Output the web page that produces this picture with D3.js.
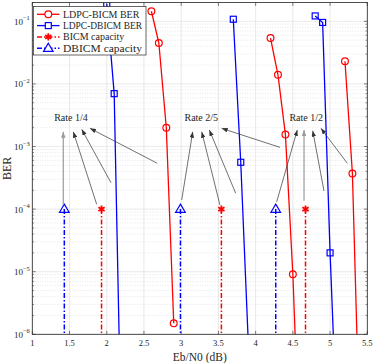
<!DOCTYPE html>
<html>
<head>
<meta charset="utf-8">
<script src="https://d3js.org/d3.v7.min.js"></script>
<style>
  body { margin: 0; background: #fff; }
  text { font-family: "Liberation Serif", "Times New Roman", serif; fill: #262626; }
</style>
</head>
<body>
<svg id="chart" width="374" height="363"></svg>
<script>
// LDPC BER curves, one list per code rate (1/4, 2/5, 1/2)
const bicmEbN0  = [[2.6, 2.7, 2.8, 2.9], [4.2, 4.3, 4.4, 4.5, 4.6], [5.2, 5.3, 5.4]];
const bicmBer   = [[0.145, 0.045, 0.002, 1.5e-6], [0.054, 0.014, 1.55e-3, 9.1e-6, 6e-9], [0.023, 3.7e-4, 2e-8]];
const dbicmEbN0 = [[2.0, 2.1, 2.2], [3.7, 3.8, 3.9], [4.8, 4.9, 5.0, 5.1]];
const dbicmBer  = [[0.19, 0.007, 1e-8], [0.108, 5.6e-4, 8e-7], [0.122, 0.096, 2e-5, 2e-8]];

// capacity limits (vertical markers)
const bicmCapacity  = [1.93, 3.54, 4.67];
const dbicmCapacity = [1.43, 2.99, 4.27];
const capacityBer   = [1e-4, 1e-7];

// annotations
const rateLabels   = ["Rate 1/4", "Rate 2/5", "Rate 1/2"];
const rateLabelX   = [1.52, 3.27, 4.68];
const rateLabelBer = 2.9e-3;
const arrowFromX   = [1.416, 1.865, 2.057, 2.679, 3.007, 3.521, 3.732, 4.327, 4.283, 4.65, 4.918, 5.231];
const arrowFromBer = [1.16e-4, 1.19e-4, 2.64e-4, 5.4e-4, 1.4e-4, 1.16e-4, 1.79e-4, 9.7e-4, 1.31e-4, 1.36e-4, 1.95e-4, 5.4e-4];
const arrowToX     = [1.416, 1.551, 1.664, 1.775, 3.155, 3.276, 3.378, 3.544, 4.56, 4.65, 4.767, 4.878];
const arrowToBer   = [1.72e-3, 1.72e-3, 1.88e-3, 1.95e-3, 1.72e-3, 1.72e-3, 1.84e-3, 1.95e-3, 1.84e-3, 1.84e-3, 1.79e-3, 1.95e-3];
const arrowGray    = [true, false, false, false, false, false, false, false, false, true, false, false];

const xTicks = [1, 1.5, 2, 2.5, 3, 3.5, 4, 4.5, 5, 5.5];
const yTickExp = [-6, -5, -4, -3, -2, -1];

const legendNames = ["LDPC-BICM BER", "LDPC-DBICM BER", "BICM capacity", "DBICM capacity"];

const svg = d3.select("#chart");
const L = 32.3, R = 367.3, T = 2.5, B = 334.3;
const x = d3.scaleLinear().domain([1, 5.5]).range([L, R]);
const y = d3.scaleLog().domain([1e-6, 0.2]).range([B, T]);

const RED = "#ff0000", BLUE = "#0000ff", AX = "#262626";

// minor grid (dotted) for log axis
const minor = [];
for (let e = -6; e <= -1; e++) for (let m = 2; m <= 9; m++) { const v = m * Math.pow(10, e); if (v <= 0.2) minor.push(v); }
svg.append("g").selectAll("line").data(minor).enter().append("line")
  .attr("x1", L).attr("x2", R).attr("y1", d => y(d)).attr("y2", d => y(d))
  .attr("stroke", "#d8d8d8").attr("stroke-width", 0.6).attr("stroke-dasharray", "1,1.5");

// major grid
svg.append("g").selectAll("line").data(yTickExp).enter().append("line")
  .attr("x1", L).attr("x2", R).attr("y1", d => y(Math.pow(10, d))).attr("y2", d => y(Math.pow(10, d)))
  .attr("stroke", "#e3e3e3").attr("stroke-width", 0.8);
svg.append("g").selectAll("line").data(xTicks).enter().append("line")
  .attr("x1", d => x(d)).attr("x2", d => x(d)).attr("y1", T).attr("y2", B)
  .attr("stroke", "#e3e3e3").attr("stroke-width", 0.8);

// clip
svg.append("clipPath").attr("id", "clip").append("rect")
  .attr("x", L).attr("y", T).attr("width", R - L).attr("height", B - T);
const plot = svg.append("g").attr("clip-path", "url(#clip)");

// arrowheads
const defs = svg.append("defs");
[["ah", "#333"], ["ahg", "#9a9a9a"]].forEach(([id, c]) => {
  defs.append("marker").attr("id", id).attr("viewBox", "0 0 8 6")
    .attr("refX", 8).attr("refY", 3).attr("markerWidth", 6).attr("markerHeight", 4.5)
    .attr("markerUnits", "userSpaceOnUse").attr("orient", "auto")
    .append("path").attr("d", "M0,0 L8,3 L0,6 Z").attr("fill", c);
});

// capacity lines
function capacity(xs, color, marker) {
  xs.forEach(c => {
    const pts = capacityBer.map(b => [c, b]);
    plot.append("path")
      .attr("d", d3.line().x(d => x(d[0])).y(d => y(d[1]))(pts))
      .attr("fill", "none").attr("stroke", color).attr("stroke-width", 1.5)
      .attr("stroke-dasharray", "5,2,1.5,2");
    const cx = x(c), cy = y(capacityBer[0]);
    if (marker === "tri") {
      plot.append("path").attr("d", `M${cx},${cy - 5} L${cx + 4.8},${cy + 3.2} L${cx - 4.8},${cy + 3.2} Z`)
        .attr("fill", "none").attr("stroke", color).attr("stroke-width", 1.2);
    } else {
      plot.append("path").attr("d", d3.symbol(d3.symbolAsterisk, 36)()).attr("transform", `translate(${cx},${cy})`)
        .attr("fill", "none").attr("stroke", color).attr("stroke-width", 1.8);
    }
  });
}
capacity(dbicmCapacity, BLUE, "tri");
capacity(bicmCapacity, RED, "star");

// BER curves
const line = d3.line().x(d => x(d[0])).y(d => y(d[1]));
function curves(xs, ys, color, marker) {
  xs.forEach((xa, i) => {
    const pts = xa.map((v, j) => [v, ys[i][j]]);
    plot.append("path").attr("d", line(pts)).attr("fill", "none")
      .attr("stroke", color).attr("stroke-width", 1.3);
    plot.selectAll(null).data(pts.filter(p => p[1] >= 1e-6)).enter().append(marker === "o" ? "circle" : "rect")
      .each(function(p) {
        const s = d3.select(this);
        if (marker === "o") s.attr("cx", x(p[0])).attr("cy", y(p[1])).attr("r", 3.4);
        else s.attr("x", x(p[0]) - 3).attr("y", y(p[1]) - 3).attr("width", 6).attr("height", 6);
      })
      .attr("fill", "none").attr("stroke", color).attr("stroke-width", 1.2);
  });
}
curves(bicmEbN0, bicmBer, RED, "o");
curves(dbicmEbN0, dbicmBer, BLUE, "s");

// annotation arrows
svg.append("g").selectAll("line").data(arrowFromX).enter().append("line")
  .attr("x1", (d, i) => x(d)).attr("y1", (d, i) => y(arrowFromBer[i]))
  .attr("x2", (d, i) => x(arrowToX[i])).attr("y2", (d, i) => y(arrowToBer[i]))
  .attr("stroke", (d, i) => arrowGray[i] ? "#9a9a9a" : "#333")
  .attr("stroke-width", (d, i) => arrowGray[i] ? 1.2 : 0.7)
  .attr("marker-end", (d, i) => arrowGray[i] ? "url(#ahg)" : "url(#ah)");

svg.append("g").selectAll("text").data(rateLabels).enter().append("text")
  .attr("x", (d, i) => x(rateLabelX[i])).attr("y", y(rateLabelBer))
  .attr("text-anchor", "middle").attr("dy", "0.35em").attr("font-size", 10).text(d => d);

// axes box + ticks
svg.append("rect").attr("x", L).attr("y", T).attr("width", R - L).attr("height", B - T)
  .attr("fill", "none").attr("stroke", AX).attr("stroke-width", 0.8);
const tk = 3.4;
xTicks.forEach(v => {
  svg.append("line").attr("x1", x(v)).attr("x2", x(v)).attr("y1", B).attr("y2", B - tk).attr("stroke", AX).attr("stroke-width", 0.6);
  svg.append("line").attr("x1", x(v)).attr("x2", x(v)).attr("y1", T).attr("y2", T + tk).attr("stroke", AX).attr("stroke-width", 0.6);
});
yTickExp.forEach(e => {
  const yy = y(Math.pow(10, e));
  svg.append("line").attr("x1", L).attr("x2", L + tk).attr("y1", yy).attr("y2", yy).attr("stroke", AX).attr("stroke-width", 0.6);
  svg.append("line").attr("x1", R).attr("x2", R - tk).attr("y1", yy).attr("y2", yy).attr("stroke", AX).attr("stroke-width", 0.6);
});
minor.forEach(v => {
  svg.append("line").attr("x1", L).attr("x2", L + 1.8).attr("y1", y(v)).attr("y2", y(v)).attr("stroke", AX).attr("stroke-width", 0.5);
  svg.append("line").attr("x1", R).attr("x2", R - 1.8).attr("y1", y(v)).attr("y2", y(v)).attr("stroke", AX).attr("stroke-width", 0.5);
});

// tick labels
svg.append("g").selectAll("text").data(xTicks).enter().append("text")
  .attr("x", d => x(d)).attr("y", B + 11.5).attr("text-anchor", "middle").attr("font-size", 8.5)
  .text(d => d);
const yl = svg.append("g").selectAll("text").data(yTickExp).enter().append("text")
  .attr("x", L - 2.5).attr("y", d => y(Math.pow(10, d)) + 3.5).attr("text-anchor", "end").attr("font-size", 9);
yl.append("tspan").text("10");
yl.append("tspan").attr("dy", -4.5).attr("font-size", 6.5).text(d => "\u2212" + (-d));

svg.append("text").attr("x", (L + R) / 2).attr("y", 360.5).attr("text-anchor", "middle")
  .attr("font-size", 11.5).text("Eb/N0 (dB)");
svg.append("text").attr("transform", `translate(11,${(T + B) / 2}) rotate(-90)`)
  .attr("text-anchor", "middle").attr("font-size", 12).text("BER");

// legend
const lg = svg.append("g").attr("transform", "translate(33.5,6.5)");
lg.append("rect").attr("width", 112.5).attr("height", 48.5).attr("fill", "#fff")
  .attr("stroke", AX).attr("stroke-width", 0.7);
const lColors = [RED, BLUE, RED, BLUE];
legendNames.forEach((name, i) => {
  const cy = 7.8 + i * 11.3;
  lg.append("line").attr("x1", 3.5).attr("x2", 26).attr("y1", cy).attr("y2", cy)
    .attr("stroke", lColors[i]).attr("stroke-width", i < 2 ? 1.3 : 1.5)
    .attr("stroke-dasharray", i < 2 ? null : "5,2,1.5,2");
  if (i === 0) lg.append("circle").attr("cx", 14.8).attr("cy", cy).attr("r", 3.4).attr("fill", "#fff").attr("stroke", RED).attr("stroke-width", 1.2);
  if (i === 1) lg.append("rect").attr("x", 11.8).attr("y", cy - 3).attr("width", 6).attr("height", 6).attr("fill", "#fff").attr("stroke", BLUE).attr("stroke-width", 1.2);
  if (i === 2) lg.append("path").attr("d", d3.symbol(d3.symbolAsterisk, 36)()).attr("transform", `translate(14.8,${cy})`).attr("stroke", RED).attr("stroke-width", 1.8);
  if (i === 3) lg.append("path").attr("d", `M14.8,${cy - 5} L19.6,${cy + 3.2} L10,${cy + 3.2} Z`).attr("fill", "#fff").attr("stroke", BLUE).attr("stroke-width", 1.2);
  lg.append("text").attr("x", 29.5).attr("y", cy).attr("dy", "0.35em").attr("font-size", 10)
    .attr("textLength", name.length > 13 ? 79 : null).attr("lengthAdjust", "spacingAndGlyphs").text(name);
});
</script>
</body>
</html>
